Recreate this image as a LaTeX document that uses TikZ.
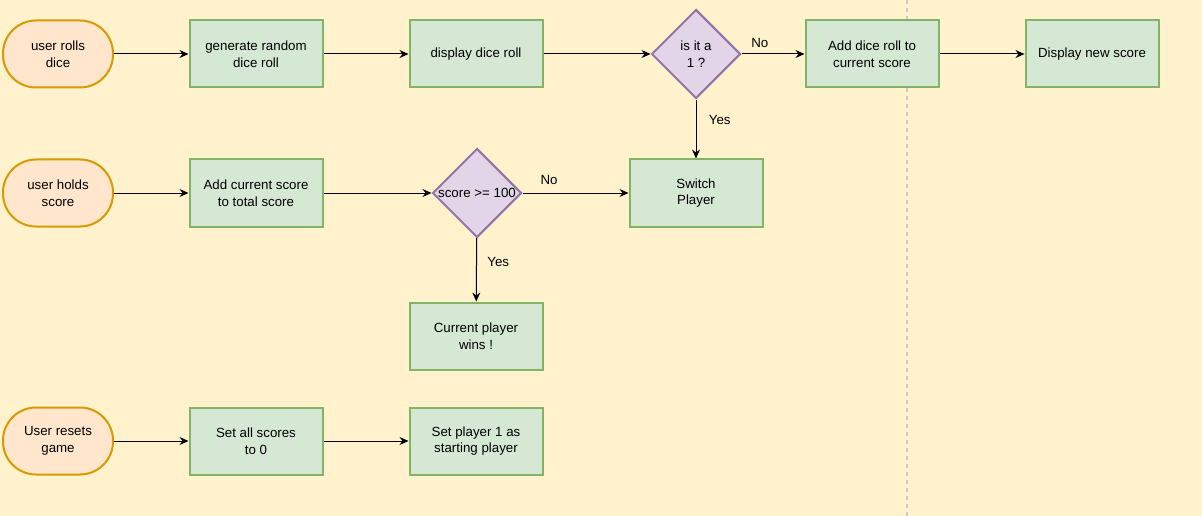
\documentclass[tikz,border=0pt]{standalone}
\usepackage{fontspec}
\setmainfont{Liberation Sans}
\usepackage{tikz}
\usetikzlibrary{arrows.meta,shapes.geometric}

\definecolor{paper}{HTML}{FFF2CC}
\definecolor{termfill}{HTML}{FFE6CC}
\definecolor{termline}{HTML}{D79B00}
\definecolor{stepfill}{HTML}{D5E8D4}
\definecolor{stepline}{HTML}{82B366}
\definecolor{askfill}{HTML}{E1D5E7}
\definecolor{askline}{HTML}{9673A6}
\definecolor{splitline}{HTML}{CCCCCC}

\begin{document}
\begin{tikzpicture}[x=1pt,y=-1pt,
    font=\fontsize{13.3}{16.5}\selectfont,
    startend/.style={draw=termline, fill=termfill, line width=2pt, rounded corners=33pt,
        minimum width=110pt, minimum height=67pt, align=center, inner sep=0pt},
    stepbox/.style={draw=stepline, fill=stepfill, line width=2pt,
        minimum width=133pt, minimum height=67pt, align=center, inner sep=0pt},
    askbox/.style={diamond, draw=askline, fill=askfill, line width=2pt,
        minimum width=89pt, minimum height=89pt, align=center, inner sep=0pt},
    flow/.style={line width=1pt, -{Stealth[length=9pt,width=8pt,inset=3pt]}}]
    \useasboundingbox[fill=paper] (0,0) rectangle (1202,516);
    \draw[splitline, line width=1.1pt, dash pattern=on 4pt off 4pt] (907,0) -- (907,516);
    % first row
    \node[startend] (rolls) at (58,54) {user rolls\\dice};
    \node[stepbox] (random) at (256,54) {generate random\\dice roll};
    \node[stepbox] (show) at (476,54) {display dice roll};
    \node[askbox] (isone) at (696,54) {is it a\\1 ?};
    \node[stepbox] (addroll) at (872,54) {Add dice roll to\\current score};
    \node[stepbox] (newscore) at (1092,54) {Display new score};
    % second row
    \node[startend] (holds) at (58,193) {user holds\\score};
    \node[stepbox] (addtotal) at (256,193) {Add current score\\to total score};
    \node[askbox] (hundred) at (477,193) {score >= 100};
    \node[stepbox] (switch) at (696,193) {Switch\\Player};
    \node[stepbox] (wins) at (476,336) {Current player\\wins !};
    % third row
    \node[startend] (resets) at (58,441) {User resets\\game};
    \node[stepbox] (zero) at (256,441) {Set all scores\\to 0};
    \node[stepbox] (first) at (476,441) {Set player 1 as\\starting player};
    % connectors
    \draw[flow] (rolls) -- (random);
    \draw[flow] (random) -- (show);
    \draw[flow] (show) -- (isone);
    \draw[flow] (isone) -- node[pos=0.29, above=3pt] (noa) {No} (addroll);
    \draw[flow] (addroll) -- (newscore);
    \draw[flow] (isone) -- node[pos=0.34, anchor=west, xshift=9pt] (yesa) {Yes} (switch);
    \draw[flow] (holds) -- (addtotal);
    \draw[flow] (addtotal) -- (hundred);
    \draw[flow] (hundred) -- node[pos=0.25, above=5pt] (nob) {No} (switch);
    \draw[flow] (hundred) -- node[pos=0.38, anchor=west, xshift=7pt] (yesb) {Yes} (wins);
    \draw[flow] (resets) -- (zero);
    \draw[flow] (zero) -- (first);
\end{tikzpicture}
\end{document}
